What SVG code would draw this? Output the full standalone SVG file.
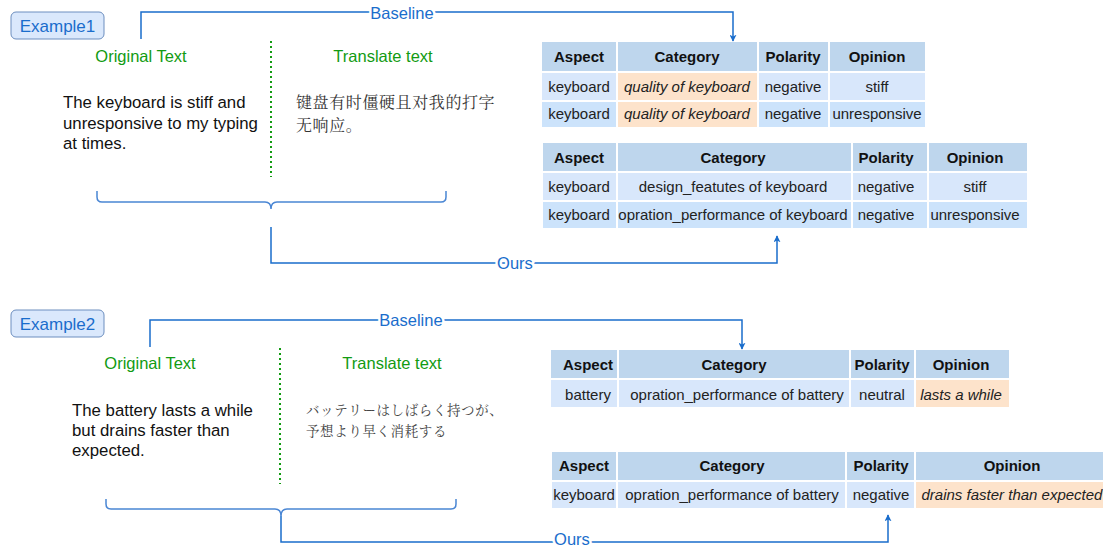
<svg xmlns="http://www.w3.org/2000/svg" width="1103" height="547" viewBox="0 0 1103 547">
<defs>
<marker id="arr" viewBox="0 0 10 10" refX="9" refY="5" markerWidth="7" markerHeight="7" markerUnits="userSpaceOnUse" orient="auto">
<path d="M0,0 L10,5 L0,10 L2.5,5 z" fill="#1a6dcc"/>
</marker>
<style>
.tag{fill:#dae8fc;stroke:#6c8ebf;stroke-width:1}
.tagt{font-family:"Liberation Sans",Arial,sans-serif;font-size:17px;fill:#1a6dcc;text-anchor:middle}
.conn{fill:none;stroke:#1a6dcc;stroke-width:1.5}
.lbl{font-family:"Liberation Sans",Arial,sans-serif;font-size:16.5px;fill:#1a6dcc;text-anchor:middle;stroke:#fff;stroke-width:5px;paint-order:stroke;stroke-linejoin:round}
.green{font-family:"Liberation Sans",Arial,sans-serif;font-size:16.5px;fill:#129b12;text-anchor:middle}
.dot{stroke:#129b12;stroke-width:2;stroke-dasharray:2 3}
.body{font-family:"Liberation Sans",Arial,sans-serif;font-size:16.8px;fill:#111}
.cjk{font-family:"Noto Serif CJK SC","Noto Sans CJK SC",serif;font-size:16px;fill:#333;letter-spacing:0.6px}
.jp{font-family:"Noto Serif CJK JP","Noto Sans CJK JP",serif;font-size:13.5px;fill:#444;letter-spacing:0.6px}
.brace{fill:none;stroke:#4a86d4;stroke-width:1.5}
.h{fill:#bed6ed}
.r1{fill:#d8e7fb}
.r2{fill:#cce3fb}
.o{fill:#fde3cb}
.th{font-family:"Liberation Sans",Arial,sans-serif;font-size:15px;font-weight:bold;fill:#111;text-anchor:middle}
.td{font-family:"Liberation Sans",Arial,sans-serif;font-size:15px;fill:#222;text-anchor:middle}
.it{font-style:italic}
</style>
</defs>

<g id="example1">
<rect class="tag" x="11" y="12" width="93" height="27" rx="5"/>
<text class="tagt" x="57.5" y="31.5">Example1</text>
</g>
<g id="orig1">
<text class="green" x="141" y="62">Original Text</text>
<text class="body" x="63" y="108">The keyboard is stiff and</text>
<text class="body" x="63" y="129">unresponsive to my typing</text>
<text class="body" x="63" y="149">at times.</text>
</g>
<g id="divider1"><line class="dot" x1="271" y1="41" x2="271" y2="177"/></g>
<g id="trans1">
<text class="green" x="383" y="62">Translate text</text>
<text class="cjk" x="296" y="108">键盘有时僵硬且对我的打字</text>
<text class="cjk" x="296" y="131">无响应。</text>
</g>
<g id="brace1"><path class="brace" d="M97,191 V197 Q97,202 102,202 H265 Q271,202 271,209 Q271,202 277,202 H441 Q446,202 446,197 V191"/></g>

<g id="table1">
<rect class="h" x="542" y="42" width="74" height="29"/><rect class="h" x="618" y="42" width="139" height="29"/><rect class="h" x="759" y="42" width="69" height="29"/><rect class="h" x="830" y="42" width="95" height="29"/>
<rect class="r1" x="542" y="73" width="74" height="27"/><rect class="o" x="618" y="73" width="139" height="27"/><rect class="r1" x="759" y="73" width="69" height="27"/><rect class="r1" x="830" y="73" width="95" height="27"/>
<rect class="r2" x="542" y="102" width="74" height="25"/><rect class="o" x="618" y="102" width="139" height="25"/><rect class="r2" x="759" y="102" width="69" height="25"/><rect class="r2" x="830" y="102" width="95" height="25"/>
<text class="th" x="579" y="62">Aspect</text><text class="th" x="687" y="62">Category</text><text class="th" x="793" y="62">Polarity</text><text class="th" x="877" y="62">Opinion</text>
<text class="td" x="579" y="92">keyboard</text><text class="td it" x="687" y="92">quality of keyboard</text><text class="td" x="793" y="92">negative</text><text class="td" x="877" y="92">stiff</text>
<text class="td" x="579" y="119">keyboard</text><text class="td it" x="687" y="119">quality of keyboard</text><text class="td" x="793" y="119">negative</text><text class="td" x="877" y="119">unresponsive</text>
</g>

<g id="table2">
<rect class="h" x="543" y="143" width="73" height="28"/><rect class="h" x="618" y="143" width="233" height="28"/><rect class="h" x="853" y="143" width="74" height="28"/><rect class="h" x="929" y="143" width="98" height="28"/>
<rect class="r1" x="543" y="173" width="73" height="27"/><rect class="r1" x="618" y="173" width="233" height="27"/><rect class="r1" x="853" y="173" width="74" height="27"/><rect class="r1" x="929" y="173" width="98" height="27"/>
<rect class="r2" x="543" y="202" width="73" height="26"/><rect class="r2" x="618" y="202" width="233" height="26"/><rect class="r2" x="853" y="202" width="74" height="26"/><rect class="r2" x="929" y="202" width="98" height="26"/>
<text class="th" x="579" y="163">Aspect</text><text class="th" x="733" y="163">Category</text><text class="th" x="886" y="163">Polarity</text><text class="th" x="975" y="163">Opinion</text>
<text class="td" x="579" y="192">keyboard</text><text class="td" x="733" y="192">design_featutes of keyboard</text><text class="td" x="886" y="192">negative</text><text class="td" x="975" y="192">stiff</text>
<text class="td" x="579" y="220">keyboard</text><text class="td" x="733" y="220">opration_performance of keyboard</text><text class="td" x="886" y="220">negative</text><text class="td" x="975" y="220">unresponsive</text>
</g>

<g id="example2">
<rect class="tag" x="11" y="310" width="93" height="27" rx="5"/>
<text class="tagt" x="57.5" y="329.5">Example2</text>
</g>
<g id="orig2">
<text class="green" x="150" y="369">Original Text</text>
<text class="body" x="72" y="416">The battery lasts a while</text>
<text class="body" x="72" y="436">but drains faster than</text>
<text class="body" x="72" y="456">expected.</text>
</g>
<g id="divider2"><line class="dot" x1="280" y1="348" x2="280" y2="484"/></g>
<g id="trans2">
<text class="green" x="392" y="369">Translate text</text>
<text class="jp" x="306" y="415">バッテリーはしばらく持つが、</text>
<text class="jp" x="306" y="436">予想より早く消耗する</text>
</g>
<g id="brace2"><path class="brace" d="M106,499 V504 Q106,509 111,509 H275 Q281,509 281,516 Q281,509 287,509 H451 Q456,509 456,504 V499"/></g>

<g id="table3">
<rect class="h" x="551" y="350" width="66" height="28"/><rect class="h" x="619" y="350" width="230" height="28"/><rect class="h" x="851" y="350" width="63" height="28"/><rect class="h" x="916" y="350" width="93" height="28"/>
<rect class="r1" x="551" y="380" width="66" height="27"/><rect class="r1" x="619" y="380" width="230" height="27"/><rect class="r1" x="851" y="380" width="63" height="27"/><rect class="o" x="916" y="380" width="93" height="27"/>
<text class="th" x="588" y="370">Aspect</text><text class="th" x="734" y="370">Category</text><text class="th" x="882" y="370">Polarity</text><text class="th" x="961" y="370">Opinion</text>
<text class="td" x="588" y="400">battery</text><text class="td" x="737" y="400">opration_performance of battery</text><text class="td" x="882" y="400">neutral</text><text class="td it" x="961" y="400">lasts a while</text>
</g>

<g id="table4">
<rect class="h" x="552" y="452" width="64" height="28"/><rect class="h" x="618" y="452" width="227" height="28"/><rect class="h" x="847" y="452" width="67" height="28"/><rect class="h" x="916" y="452" width="187" height="28"/>
<rect class="r1" x="552" y="482" width="64" height="26"/><rect class="r1" x="618" y="482" width="227" height="26"/><rect class="r1" x="847" y="482" width="67" height="26"/><rect class="o" x="916" y="482" width="187" height="26"/>
<text class="th" x="584" y="471">Aspect</text><text class="th" x="732" y="471">Category</text><text class="th" x="881" y="471">Polarity</text><text class="th" x="1012" y="471">Opinion</text>
<text class="td" x="584" y="500">keyboard</text><text class="td" x="732" y="500">opration_performance of battery</text><text class="td" x="881" y="500">negative</text><text class="td it" x="1012" y="500">drains faster than expected</text>
</g>

<g id="connectors">
<path class="conn" d="M141,39 V12 H733 V41" marker-end="url(#arr)"/>
<text class="lbl" x="402" y="19">Baseline</text>
<path class="conn" d="M271,227 V263 H777 V236" marker-end="url(#arr)"/>
<text class="lbl" x="515" y="269">Ours</text>
<path class="conn" d="M150,347 V320 H742 V349" marker-end="url(#arr)"/>
<text class="lbl" x="411" y="326">Baseline</text>
<path class="conn" d="M281,516 V542 H888 V515" marker-end="url(#arr)"/>
<text class="lbl" x="572" y="545">Ours</text>
</g>
</svg>
